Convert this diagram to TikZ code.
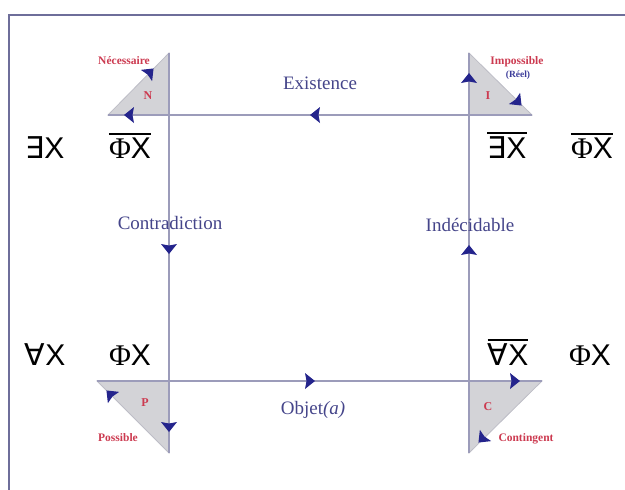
\documentclass[tikz,border=0pt]{standalone}
\usepackage{fontspec}
\setmainfont{Liberation Serif}
\newfontfamily\symfont{DejaVu Sans}
\newfontfamily\arialfont{Liberation Sans}
\definecolor{framec}{HTML}{6E6E9A}
\definecolor{linec}{HTML}{9C9CBA}
\definecolor{trifill}{HTML}{D3D3D7}
\definecolor{triedge}{HTML}{BDBDC6}
\definecolor{arrowc}{HTML}{24248C}
\definecolor{labc}{HTML}{45458A}
\definecolor{redc}{HTML}{CC3A50}
\definecolor{bluec}{HTML}{3C3C9A}
\begin{document}
\begin{tikzpicture}[x=1pt,y=-1pt,
  tip/.pic={\fill[arrowc] (5,0) -- (-5,8) -- (-3.5,0) -- (-5,-8) -- cycle;},
  lab/.style={font=\fontsize{19}{22}\selectfont, text=labc, inner sep=0},
  redlab/.style={font=\bfseries\fontsize{11.5}{12}\selectfont, text=redc, inner sep=0},
  letter/.style={font=\bfseries\fontsize{12}{13}\selectfont, text=redc, inner sep=0},
  sym/.style={font=\arialfont\fontsize{30}{36}\selectfont, text=black, inner sep=0},
  bar/.style={draw=black, line width=1.8pt},
  tri/.style={fill=trifill, draw=triedge, line width=0.8pt},
  axis/.style={draw=linec, line width=1.2pt}]
\useasboundingbox (0,0) rectangle (625,490);
% frame
\coordinate (fBL) at (9,490);
\coordinate (fTL) at (9,15);
\coordinate (fTR) at (625,15);
\draw[framec, line width=2.5pt] (fBL) -- (fTL) -- (fTR);
% corners
\coordinate (nT) at (169,53);
\coordinate (nB) at (169,115);
\coordinate (nL) at (108,115);
\coordinate (iT) at (469,53);
\coordinate (iB) at (469,115);
\coordinate (iR) at (532,115);
\coordinate (pL) at (97,381);
\coordinate (pT) at (169,381);
\coordinate (pB) at (169,453);
\coordinate (cT) at (469,381);
\coordinate (cR) at (542,381);
\coordinate (cB) at (469,453);
% triangles
\path[tri] (nT) -- (nB) -- (nL) -- cycle;
\path[tri] (iT) -- (iB) -- (iR) -- cycle;
\path[tri] (pL) -- (pT) -- (pB) -- cycle;
\path[tri] (cT) -- (cR) -- (cB) -- cycle;
% axes
\draw[axis] (nL) -- (iR);
\draw[axis] (pL) -- (cR);
\draw[axis] (nT) -- (pB);
\draw[axis] (iT) -- (cB);
% arrows
\pic[rotate=45] (aN1) at (150,72) {tip};
\pic[rotate=180] (aN2) at (129,115) {tip};
\pic[rotate=180] (aTop) at (315,115) {tip};
\pic[rotate=90] (aI1) at (469,78) {tip};
\pic[rotate=-45] (aI2) at (518,102) {tip};
\pic[rotate=90] (aInd) at (469,250) {tip};
\pic[rotate=-90] (aCon) at (169,249) {tip};
\pic[rotate=-90] (aP1) at (169,427) {tip};
\pic[rotate=135] (aP2) at (110,394) {tip};
\pic[rotate=0] (aBot) at (310,381) {tip};
\pic[rotate=0] (aC1) at (515,381) {tip};
\pic[rotate=-135] (aC2) at (482,439) {tip};
% axis labels
\node[lab] (exist) at (320,83) {Existence};
\node[lab] (contra) at (170,223) {Contradiction};
\node[lab] (indec) at (470,225) {Indécidable};
\node[lab] (objet) at (313,410) {Objet\textit{(a)}};
% corner labels
\node[redlab] (nec) at (124,61) {Nécessaire};
\node[redlab] (imp) at (517,62) {Impossible};
\node[font=\bfseries\fontsize{9.5}{10}\selectfont, text=bluec, inner sep=0] (reel) at (518,75) {(Réel)};
\node[redlab] (poss) at (118,438) {Possible};
\node[redlab] (cont) at (526,439) {Contingent};
\node[letter] (lN) at (148,96) {N};
\node[letter] (lI) at (488,96) {I};
\node[letter] (lP) at (145,403) {P};
\node[letter] (lC) at (488,407) {C};
% formulas
\node[sym] (s1) at (45,148) {{\symfont ∃}X};
\node[sym] (s2) at (130,148) {{\rmfamily Φ}X};
\node[sym] (s3) at (507,148) {{\symfont ∃}X};
\node[sym] (s4) at (592,148) {{\rmfamily Φ}X};
\node[sym] (s5) at (45,355) {{\symfont ∀}X};
\node[sym] (s6) at (130,355) {{\rmfamily Φ}X};
\node[sym] (s7) at (508,355) {{\symfont ∀}X};
\node[sym] (s8) at (590,355) {{\rmfamily Φ}X};
% overlines
\draw[bar] ([yshift=3.5pt]s2.north west) -- ([yshift=3.5pt]s2.north east);
\draw[bar] ([yshift=3.5pt]s3.north west) -- ([yshift=3.5pt]s3.north east);
\draw[bar] ([yshift=3.5pt]s4.north west) -- ([yshift=3.5pt]s4.north east);
\draw[bar] ([yshift=3.5pt]s7.north west) -- ([yshift=3.5pt]s7.north east);
\end{tikzpicture}
\end{document}
